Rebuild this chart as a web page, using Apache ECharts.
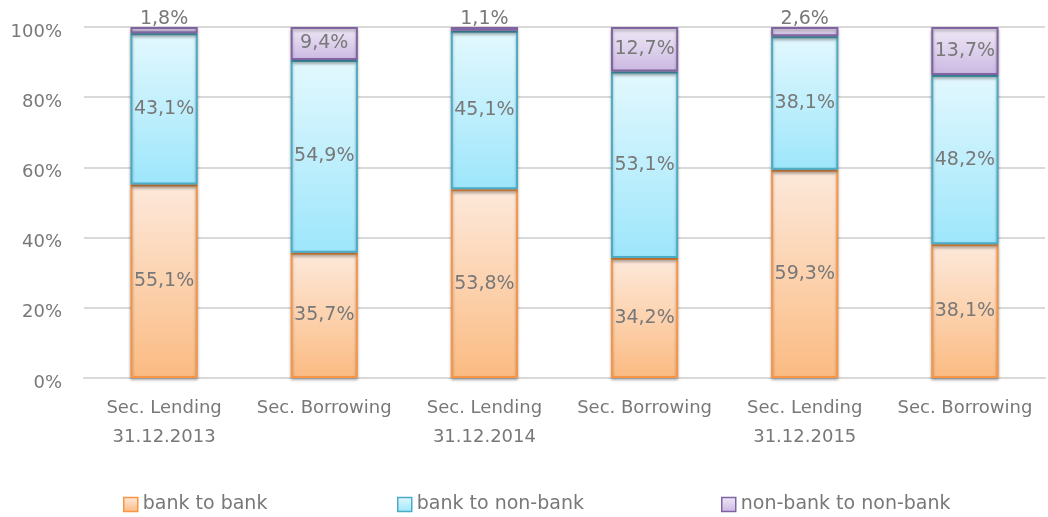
<!DOCTYPE html>
<html><head><meta charset="utf-8">
<script src="https://cdn.jsdelivr.net/npm/echarts@6/dist/echarts.min.js"></script>
<style>html,body{margin:0;padding:0;background:#fff}#c{width:1048px;height:517px}</style>
</head><body><div id="c"></div>
<script>
const categories = ["Sec. Lending\n31.12.2013","Sec. Borrowing","Sec. Lending\n31.12.2014","Sec. Borrowing","Sec. Lending\n31.12.2015","Sec. Borrowing"];
const bankToBank = [55.1, 35.7, 53.8, 34.2, 59.3, 38.1];
const bankToNonBank = [43.1, 54.9, 45.1, 53.1, 38.1, 48.2];
const nonBankToNonBank = [1.8, 9.4, 1.1, 12.7, 2.6, 13.7];
const yTicks = [0, 20, 40, 60, 80, 100];
const seriesNames = ["bank to bank","bank to non-bank","non-bank to non-bank"];

const FONT = 'DejaVu Sans';
const TXT = '#787878';
const fmt = v => v.toFixed(1).replace('.', ',') + '%';
function grad(top, bottom){
  return new echarts.graphic.LinearGradient(0,0,0,1,[{offset:0,color:top},{offset:1,color:bottom}]);
}
const styles = [
  {fill: grad('#fde9db','#fbbb82'), border:'#f79646'},
  {fill: grad('#e3f8fe','#9de6fb'), border:'#4bacc6'},
  {fill: grad('#efe9f6','#cbb8e2'), border:'#8064a2'}
];
const values = [bankToBank, bankToNonBank, nonBankToNonBank];
const series = values.map((arr, i) => ({
  name: seriesNames[i],
  type: 'bar',
  stack: 'total',
  barWidth: '42%',
  data: arr.map(v => (i === 2 && v < 5) ? {value: v, label: {position: 'top', distance: -2}} : v),
  itemStyle: {color: styles[i].fill, borderColor: styles[i].border, borderWidth: 2,
    shadowColor: 'rgba(0,0,0,0.3)', shadowBlur: 3, shadowOffsetX: 0, shadowOffsetY: 2},
  label: {show: true, position: 'inside', formatter: p => fmt(p.value), color: TXT, fontSize: 19, fontFamily: FONT}
}));
const legends = seriesNames.map((n, i) => ({
  data: [n], left: [123, 397, 721][i], top: 495, padding: 0, itemWidth: 14, itemHeight: 14, itemGap: 0,
  icon: 'rect', textStyle: {color: TXT, fontSize: 19, fontFamily: FONT},
  itemStyle: {borderWidth: 1.5}
}));
const chart = echarts.init(document.getElementById('c'), null, {renderer: 'canvas'});
chart.setOption({
  animation: false,
  grid: {left: 84, right: 3, top: 27, bottom: 139},
  legend: legends,
  xAxis: {type: 'category', data: categories,
    axisLine: {lineStyle: {color: '#d9d9d9', width: 2}}, axisTick: {show: false},
    axisLabel: {color: TXT, fontSize: 18, fontFamily: FONT, lineHeight: 29, margin: 16, interval: 0}},
  yAxis: {type: 'value', min: yTicks[0], max: yTicks[yTicks.length-1], interval: 20,
    axisLabel: {formatter: v => v + '%', color: TXT, fontSize: 18, fontFamily: FONT, margin: 22,
      verticalAlign: 'top', lineHeight: 10},
    splitLine: {lineStyle: {color: '#d9d9d9', width: 2}}, axisLine: {show: false}, axisTick: {show: false}},
  series: series
});
</script></body></html>
